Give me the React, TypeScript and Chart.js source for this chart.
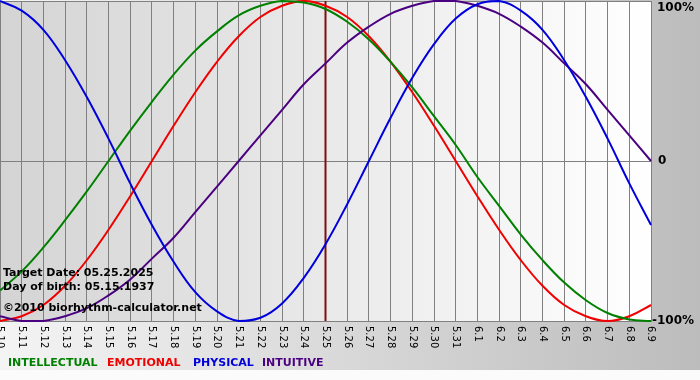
import { useEffect, useRef } from "react";
import { Chart, registerables } from "chart.js";

Chart.register(...registerables);

const dates = [
  "5.10", "5.11", "5.12", "5.13", "5.14", "5.15", "5.16", "5.17", "5.18", "5.19",
  "5.20", "5.21", "5.22", "5.23", "5.24", "5.25", "5.26", "5.27", "5.28", "5.29",
  "5.30", "5.31", "6.1", "6.2", "6.3", "6.4", "6.5", "6.6", "6.7", "6.8", "6.9",
];

const physical = [
  1.0, 0.94, 0.82, 0.63, 0.4, 0.14, -0.14, -0.4, -0.63, -0.82,
  -0.94, -1.0, -0.98, -0.89, -0.73, -0.52, -0.27, 0.0, 0.27, 0.52,
  0.73, 0.89, 0.98, 1.0, 0.94, 0.82, 0.63, 0.4, 0.14, -0.14, -0.4,
];

const emotional = [
  -1.0, -0.97, -0.9, -0.78, -0.62, -0.43, -0.22, 0.0, 0.22, 0.43,
  0.62, 0.78, 0.9, 0.97, 1.0, 0.97, 0.9, 0.78, 0.62, 0.43,
  0.22, 0.0, -0.22, -0.43, -0.62, -0.78, -0.9, -0.97, -1.0, -0.97, -0.9,
];

const intellectual = [
  -0.81, -0.69, -0.54, -0.37, -0.19, 0.0, 0.19, 0.37, 0.54, 0.69,
  0.81, 0.91, 0.97, 1.0, 0.99, 0.95, 0.87, 0.76, 0.62, 0.46,
  0.28, 0.1, -0.1, -0.28, -0.46, -0.62, -0.76, -0.87, -0.95, -0.99, -1.0,
];

const intuitive = [
  -0.97, -1.0, -1.0, -0.97, -0.92, -0.84, -0.74, -0.61, -0.48, -0.32,
  -0.16, 0.0, 0.16, 0.32, 0.48, 0.61, 0.74, 0.84, 0.92, 0.97,
  1.0, 1.0, 0.97, 0.92, 0.84, 0.74, 0.61, 0.48, 0.32, 0.16, 0.0,
];

const yTickLabels = ["100%", "0", "-100%"];
const yTickValues = [1, 0, -1];
const targetDate = "5.25";
const infoLines = [
  "Target Date: 05.25.2025",
  "Day of birth: 05.15.1937",
  "©2010 biorhythm-calculator.net",
];
const legendNames = ["INTELLECTUAL", "EMOTIONAL", "PHYSICAL", "INTUITIVE"];

const COLORS = {
  intellectual: "#008000",
  emotional: "#f00000",
  physical: "#0000dd",
  intuitive: "#4b0082",
};
const legendColors = [COLORS.intellectual, COLORS.emotional, COLORS.physical, COLORS.intuitive];
const legendX = [8, 107, 193, 262];

const BOLD = "bold 11px 'DejaVu Sans', sans-serif";
const BOLD_Y = "bold 12px 'DejaVu Sans', sans-serif";

const customPlugin = {
  id: "biorhythmDecor",
  beforeDraw(chart: any) {
    const { ctx, chartArea: a, width, height } = chart;
    ctx.save();
    const g = ctx.createLinearGradient(0, 0, width, 0);
    g.addColorStop(0, "#f4f4f4");
    g.addColorStop(1, "#bcbcbc");
    ctx.fillStyle = g;
    ctx.fillRect(0, 0, width, 370);
    ctx.fillStyle = "#fbfbfb";
    ctx.fillRect(0, 370, width, height - 370);
    const g2 = ctx.createLinearGradient(a.left, 0, a.right, 0);
    g2.addColorStop(0, "#d4d4d4");
    g2.addColorStop(1, "#ffffff");
    ctx.fillStyle = g2;
    ctx.fillRect(a.left, a.top, a.right - a.left, a.bottom - a.top);
    ctx.restore();
  },
  beforeDatasetsDraw(chart: any) {
    const { ctx, chartArea: a, scales } = chart;
    const x = scales.x.getPixelForValue(dates.indexOf(targetDate));
    ctx.save();
    ctx.strokeStyle = "#7a1010";
    ctx.lineWidth = 2;
    ctx.beginPath();
    ctx.moveTo(x, a.top);
    ctx.lineTo(x, a.bottom);
    ctx.stroke();
    ctx.restore();
  },
  afterDraw(chart: any) {
    const { ctx, chartArea: a, scales } = chart;
    ctx.save();
    // x labels, rotated to read top-down
    ctx.font = "10px Tahoma, 'DejaVu Sans', sans-serif";
    ctx.fillStyle = "#000";
    ctx.textBaseline = "middle";
    ctx.textAlign = "left";
    dates.forEach((d, i) => {
      const x = scales.x.getPixelForValue(i);
      ctx.save();
      ctx.translate(x, a.bottom + 5);
      ctx.rotate(Math.PI / 2);
      ctx.fillText(d, 0, 0);
      ctx.restore();
    });
    // y labels
    ctx.font = BOLD_Y;
    ctx.textAlign = "left";
    yTickValues.forEach((v, i) => {
      let y = scales.y.getPixelForValue(v);
      let x = a.right + 6;
      if (v === 1) y += 7;
      if (v === 0) x = a.right + 7;
      if (v === -1) x = a.right + 1;
      ctx.fillText(yTickLabels[i], x, y);
    });
    // info text
    ctx.font = BOLD;
    ctx.textBaseline = "alphabetic";
    ctx.fillStyle = "#000";
    ctx.fillText(infoLines[0], 3, 276);
    ctx.fillText(infoLines[1], 3, 290);
    ctx.fillText(infoLines[2], 3, 311);
    // legend
    legendNames.forEach((n, i) => {
      ctx.fillStyle = legendColors[i];
      ctx.fillText(n, legendX[i], 366);
    });
    ctx.restore();
  },
};

export default function App() {
  const ref = useRef<HTMLCanvasElement | null>(null);
  useEffect(() => {
    if (!ref.current) return;
    const mk = (label: string, data: number[], color: string) => ({
      label,
      data,
      borderColor: color,
      backgroundColor: color,
      borderWidth: 2,
      pointRadius: 0,
      tension: 0.4,
      fill: false,
      clip: 4,
    });
    const chart = new Chart(ref.current, {
      type: "line",
      data: {
        labels: dates,
        datasets: [
          mk("PHYSICAL", physical, COLORS.physical),
          mk("INTUITIVE", intuitive, COLORS.intuitive),
          mk("INTELLECTUAL", intellectual, COLORS.intellectual),
          mk("EMOTIONAL", emotional, COLORS.emotional),
        ],
      },
      options: {
        responsive: false,
        animation: false,
        layout: { padding: { left: 0, top: 1, right: 49, bottom: 59 } },
        plugins: { legend: { display: false }, tooltip: { enabled: false } },
        scales: {
          x: {
            type: "category",
            offset: false,
            grid: { color: "#808080", lineWidth: 1, drawTicks: false },
            border: { display: true, color: "#808080" },
            ticks: { display: false },
          },
          y: {
            min: -1,
            max: 1,
            position: "right",
            grid: { color: "#808080", lineWidth: 1, drawTicks: false },
            border: { display: true, color: "#808080" },
            ticks: { display: false, stepSize: 1 },
          },
        },
      },
      plugins: [customPlugin],
    } as any);
    return () => chart.destroy();
  }, []);
  return (
    <div style={{ position: "absolute", left: 0, top: 0, width: 700, height: 380 }}>
      <canvas ref={ref} width={700} height={380} style={{ width: 700, height: 380 }} />
    </div>
  );
}
